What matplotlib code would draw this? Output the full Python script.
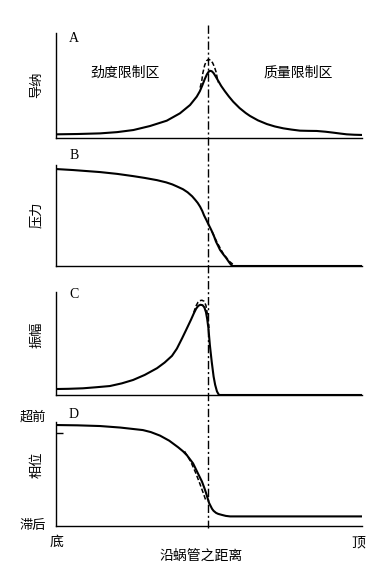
import matplotlib
matplotlib.use("Agg")
import matplotlib.pyplot as plt
from matplotlib.lines import Line2D
from matplotlib.transforms import blended_transform_factory

plt.rcParams['font.family'] = ['Noto Sans CJK SC', 'DejaVu Sans']

# 沿蜗管之距离 (0 = 底, 1 = 顶)
# A: 导纳
a_x = [0.000, 0.070, 0.144, 0.200, 0.253, 0.307, 0.362, 0.405, 0.438, 0.460,
       0.470, 0.478, 0.486, 0.493, 0.498, 0.503, 0.509, 0.515, 0.522, 0.530,
       0.540, 0.552, 0.565, 0.579, 0.600, 0.620, 0.634, 0.660, 0.689, 0.715,
       0.743, 0.770, 0.797, 0.825, 0.852, 0.880, 0.906, 0.930, 0.950, 0.975,
       1.000]
a_y = [0.035, 0.038, 0.044, 0.056, 0.076, 0.114, 0.165, 0.235, 0.314, 0.394,
       0.445, 0.500, 0.560, 0.605, 0.628, 0.640, 0.636, 0.618, 0.585, 0.545,
       0.495, 0.445, 0.395, 0.346, 0.285, 0.238, 0.210, 0.168, 0.133, 0.110,
       0.092, 0.080, 0.070, 0.068, 0.067, 0.060, 0.051, 0.042, 0.035, 0.031,
       0.029]
a_dash_x = [0.471, 0.476, 0.480, 0.486, 0.492, 0.498, 0.505, 0.512, 0.518,
            0.523, 0.527, 0.530]
a_dash_y = [0.480, 0.537, 0.620, 0.695, 0.735, 0.749, 0.742, 0.715, 0.675,
            0.630, 0.570, 0.530]

# B: 压力
b_x = [0.000, 0.056, 0.144, 0.200, 0.252, 0.290, 0.330, 0.360, 0.380, 0.395,
       0.415, 0.430, 0.445, 0.455, 0.463, 0.471, 0.478, 0.484, 0.491, 0.497,
       0.504, 0.510, 0.517, 0.523, 0.530, 0.536, 0.546, 0.556, 0.565, 0.572,
       0.578, 1.000]
b_y = [0.960, 0.950, 0.930, 0.912, 0.890, 0.872, 0.850, 0.828, 0.808, 0.788,
       0.760, 0.730, 0.690, 0.655, 0.625, 0.587, 0.545, 0.500, 0.458, 0.420,
       0.378, 0.340, 0.290, 0.240, 0.198, 0.160, 0.118, 0.080, 0.040, 0.012,
       0.000, 0.000]
b_dash_x = [0.510, 0.527, 0.545, 0.565, 0.585]
b_dash_y = [0.340, 0.230, 0.130, 0.050, 0.000]

# C: 振幅
c_x = [0.000, 0.040, 0.088, 0.130, 0.176, 0.215, 0.252, 0.290, 0.330, 0.355,
       0.379, 0.395, 0.412, 0.425, 0.441, 0.450, 0.458, 0.465, 0.472, 0.479,
       0.485, 0.490, 0.494, 0.498, 0.503, 0.509, 0.515, 0.520, 0.526, 0.531,
       0.534, 1.000]
c_y = [0.058, 0.060, 0.065, 0.075, 0.087, 0.113, 0.146, 0.195, 0.260, 0.315,
       0.380, 0.450, 0.550, 0.630, 0.730, 0.790, 0.838, 0.866, 0.876, 0.872,
       0.850, 0.805, 0.740, 0.650, 0.480, 0.320, 0.180, 0.100, 0.035, 0.008,
       0.000, 0.000]
c_dash_x = [0.450, 0.457, 0.464, 0.470, 0.477, 0.484, 0.490, 0.495, 0.500]
c_dash_y = [0.800, 0.862, 0.900, 0.916, 0.920, 0.910, 0.870, 0.780, 0.650]

# D: 相位
d_x = [0.000, 0.070, 0.144, 0.210, 0.284, 0.310, 0.340, 0.370, 0.399, 0.415,
       0.428, 0.448, 0.464, 0.477, 0.485, 0.490, 0.495, 0.500, 0.505, 0.510,
       0.515, 0.523, 0.530, 0.542, 0.555, 0.569, 1.000]
d_y = [1.000, 0.997, 0.990, 0.975, 0.950, 0.930, 0.895, 0.845, 0.780, 0.740,
       0.700, 0.620, 0.520, 0.440, 0.375, 0.330, 0.280, 0.230, 0.200, 0.170,
       0.150, 0.130, 0.120, 0.110, 0.100, 0.095, 0.095]
d_dash_x = [0.420, 0.440, 0.456, 0.470, 0.482, 0.490]
d_dash_y = [0.740, 0.640, 0.530, 0.420, 0.320, 0.250]

vline_x = 0.498
panel_letters = ["A", "B", "C", "D"]
y_labels = ["导纳", "压力", "振幅", "相位"]

W, H = 391, 581
fig = plt.figure(figsize=(W / 100, H / 100), dpi=100)


def px_box(top, bottom, left=56, right=362):
    return [left / W, 1 - bottom / H, (right - left) / W, (bottom - top) / H]


boxes = [px_box(33, 138), px_box(165, 266), px_box(292, 395), px_box(422, 526)]
ylims = [(0, 1.0), (0, 1.0), (0, 1.0), (0, 1.03)]
series = [(a_x, a_y, a_dash_x, a_dash_y), (b_x, b_y, b_dash_x, b_dash_y),
          (c_x, c_y, c_dash_x, c_dash_y), (d_x, d_y, d_dash_x, d_dash_y)]

axes = []
for box, ylim, (sx, sy, dx, dy) in zip(boxes, ylims, series):
    ax = fig.add_axes(box)
    ax.plot(sx, sy, color="black", lw=1.5, solid_joinstyle="round",
            solid_capstyle="round")
    ax.plot(dx, dy, color="black", lw=1.1, linestyle=(0, (3, 1.5)))
    ax.set_xlim(0, 1)
    ax.set_ylim(*ylim)
    for s in ["top", "right"]:
        ax.spines[s].set_visible(False)
    for s in ["left", "bottom"]:
        ax.spines[s].set_linewidth(1.0)
    ax.set_xticks([])
    ax.set_yticks([])
    axes.append(ax)

# small tick on the phase axis
axes[3].set_yticks([0.92])
axes[3].set_yticklabels([])
axes[3].tick_params(axis="y", direction="in", length=5, width=1)

# dash-dot line through all panels
trans = blended_transform_factory(axes[0].transData, fig.transFigure)
fig.add_artist(Line2D([vline_x, vline_x], [1 - 25 / H, 1 - 528 / H], transform=trans,
                      color="black", lw=1.0, linestyle=(0, (6, 2, 1.5, 2))))


def ftext(x, y, s, **kw):
    fig.text(x / W, 1 - y / H, s, ha="center", va="center", **kw)


for (letter, ypx) in zip(panel_letters, [39, 155, 295, 414]):
    ftext(74, ypx, letter, fontsize=10, family="Liberation Serif")

for lab, ypx in zip(y_labels, [85, 215, 335, 465]):
    ftext(37, ypx, lab, fontsize=9.5, rotation=90)

ftext(125, 73, "劲度限制区", fontsize=10)
ftext(298, 73, "质量限制区", fontsize=10)
ftext(33, 417, "超前", fontsize=9.5)
ftext(33, 525, "滞后", fontsize=9.5)
ftext(56, 542, "底", fontsize=10)
ftext(358, 542, "顶", fontsize=10)
ftext(201, 556, "沿蜗管之距离", fontsize=10)

fig.savefig("out.png", dpi=100)
